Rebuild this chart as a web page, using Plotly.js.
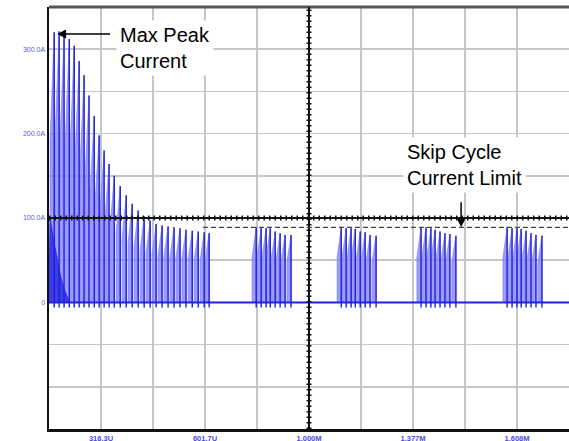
<!DOCTYPE html>
<html>
<head>
<meta charset="utf-8">
<script src="https://cdn.plot.ly/plotly-3.0.1.min.js"></script>
<style>html,body{margin:0;padding:0;background:#fff;}#chart{width:569px;height:441px;}</style>
</head>
<body>
<div id="chart"></div>
<script>
// ---- data (time in microseconds, current in amps) ----
const xTickVals = [200, 400, 600, 800, 1000, 1200, 1400, 1600, 1800, 2000];
const xTickText = ['316.3U', '', '601.7U', '', '1.000M', '', '1.377M', '', '1.608M', ''];
const yTickVals = [-100, -50, 0, 50, 100, 150, 200, 250, 300];
const yTickText = ['', '', '0', '', '100.0A', '', '200.0A', '', '300.0A'];

// start-up burst: pulse start times and peak currents
const startupTime = [4, 23, 42, 62, 81, 100, 119, 138, 158, 177, 196, 215, 235, 258, 281, 304, 327, 350, 373, 396, 419, 442, 465, 488, 511, 535, 558, 581, 600];
const startupPeak = [320, 321, 317, 312, 304, 286, 269, 245, 221, 198, 180, 164, 150, 138, 127, 117, 109, 102, 97, 93, 91, 90, 89, 88, 86, 85, 84, 83, 82];

// low-level soft-start envelope
const softStartTime = [0, 4, 15, 30, 45, 60, 80];
const softStartLevel = [0, 100, 78, 52, 30, 14, 0];

// skip-cycle bursts
const skipBurstStart = [781, 1108, 1415, 1746];
const skipPulseOffset = [0, 19, 38, 54, 73, 92, 111, 134];
const skipPulsePeak = [
  [89, 89, 88, 88, 84, 82, 80, 80],
  [89, 88, 88, 87, 84, 83, 80, 79],
  [89, 89, 88, 86, 84, 82, 81, 79],
  [89, 88, 88, 87, 85, 82, 80, 79]
];
const skipCycleLimit = 89;
const skipLimitStart = 592;
const centerTime = 1000;
const centerLevel = 100;

// ---- build waveform from data ----
const pulseWidth = 16;
const fillX = [0], fillY = [0];
const edgeX = [], edgeY = [];
function addPulse(t, p) {
  fillX.push(t, t, t + pulseWidth, t + pulseWidth);
  fillY.push(0, 0.6 * p, p, 0);
  edgeX.push(t + pulseWidth, t + pulseWidth, null);
  edgeY.push(-6, p, null);
}
startupTime.forEach((t, i) => addPulse(t, startupPeak[i]));
skipBurstStart.forEach((s, b) => skipPulseOffset.forEach((o, i) => addPulse(s + o, skipPulsePeak[b][i])));
fillX.push(2000); fillY.push(0);

const traces = [
  {x: fillX, y: fillY, type: 'scatter', mode: 'lines', fill: 'tozeroy',
   fillcolor: 'rgba(130,130,250,0.8)', line: {color: 'rgba(130,130,250,0.8)', width: 0.8}, hoverinfo: 'skip'},
  {x: softStartTime, y: softStartLevel, type: 'scatter', mode: 'lines', fill: 'tozeroy',
   fillcolor: 'rgba(30,30,225,0.75)', line: {color: 'rgba(30,30,225,0.8)', width: 1}, hoverinfo: 'skip'},
  {x: [0, 2000], y: [0, 0], type: 'scatter', mode: 'lines', line: {color: '#2323e0', width: 2}, hoverinfo: 'skip'},
  {x: edgeX, y: edgeY, type: 'scatter', mode: 'lines', line: {color: '#1f1fd8', width: 1.4}, hoverinfo: 'skip', connectgaps: false}
];

const annFont = {family: 'Liberation Sans, Arial, sans-serif', size: 20, color: '#000'};
const layout = {
  width: 569, height: 441,
  margin: {l: 49, r: 0, t: 7, b: 12, pad: 0},
  paper_bgcolor: '#fff', plot_bgcolor: '#fff',
  showlegend: false, hovermode: false,
  xaxis: {range: [0, 2000], tickvals: xTickVals, ticktext: xTickText, showgrid: true,
    gridcolor: '#c6c6c6', gridwidth: 1.5, zeroline: false, showline: true, linecolor: '#111',
    linewidth: 2.5, ticks: '', ticklen: 0, ticklabelstandoff: 0,
    tickfont: {family: 'Liberation Sans, Arial, sans-serif', size: 7.5, color: '#4a4ae8', weight: 'bold'}},
  yaxis: {range: [-150, 350], tickvals: yTickVals, ticktext: yTickText, showgrid: true,
    gridcolor: '#c6c6c6', gridwidth: 1.5, zeroline: false, showline: true, linecolor: '#111',
    linewidth: 2.5, ticks: '', ticklen: 0,
    tickfont: {family: 'Liberation Sans, Arial, sans-serif', size: 7, color: '#5a5ae8'}},
  shapes: [
    {type: 'line', xref: 'paper', yref: 'paper', x0: 0, x1: 1, y0: 1, y1: 1, line: {color: '#555', width: 3}},
    {type: 'line', xref: 'x', yref: 'paper', x0: centerTime, x1: centerTime, y0: 0, y1: 1, line: {color: '#111', width: 2}},
    {type: 'line', xref: 'x', yref: 'paper', x0: centerTime, x1: centerTime, y0: 0, y1: 1, line: {color: '#111', width: 5, dash: '1.5px,4px'}},
    {type: 'line', xref: 'paper', yref: 'y', x0: 0, x1: 1, y0: centerLevel, y1: centerLevel, line: {color: '#111', width: 2}},
    {type: 'line', xref: 'paper', yref: 'y', x0: 0, x1: 1, y0: centerLevel, y1: centerLevel, line: {color: '#111', width: 5, dash: '1.5px,4px'}},
    {type: 'line', xref: 'x', yref: 'y', x0: skipLimitStart, x1: 2000, y0: skipCycleLimit, y1: skipCycleLimit, line: {color: '#444', width: 1.2, dash: '5px,3px'}}
  ],
  annotations: [
    {xref: 'paper', yref: 'paper', x: 0.1288, y: 0.969, xanchor: 'left', yanchor: 'top', align: 'left',
     text: 'Max Peak<br>Current', showarrow: false, bgcolor: '#fff', borderpad: 3, font: annFont},
    {xref: 'x', yref: 'y', x: 31, y: 318, text: ' ', showarrow: true, axref: 'pixel', ayref: 'pixel',
     ax: 56, ay: 0, arrowhead: 2, arrowsize: 1.2, arrowwidth: 1.5, arrowcolor: '#000', standoff: 0},
    {xref: 'paper', yref: 'paper', x: 0.681, y: 0.693, xanchor: 'left', yanchor: 'top', align: 'left',
     text: 'Skip Cycle<br>Current Limit', showarrow: false, bgcolor: '#fff', borderpad: 3, font: annFont},
    {xref: 'x', yref: 'y', x: 1585, y: skipCycleLimit, text: ' ', showarrow: true, axref: 'pixel', ayref: 'pixel',
     ax: 0, ay: -35, arrowhead: 2, arrowsize: 1.2, arrowwidth: 1.5, arrowcolor: '#000', standoff: 0}
  ]
};
Plotly.newPlot('chart', traces, layout, {displayModeBar: false, staticPlot: true});
</script>
</body>
</html>
